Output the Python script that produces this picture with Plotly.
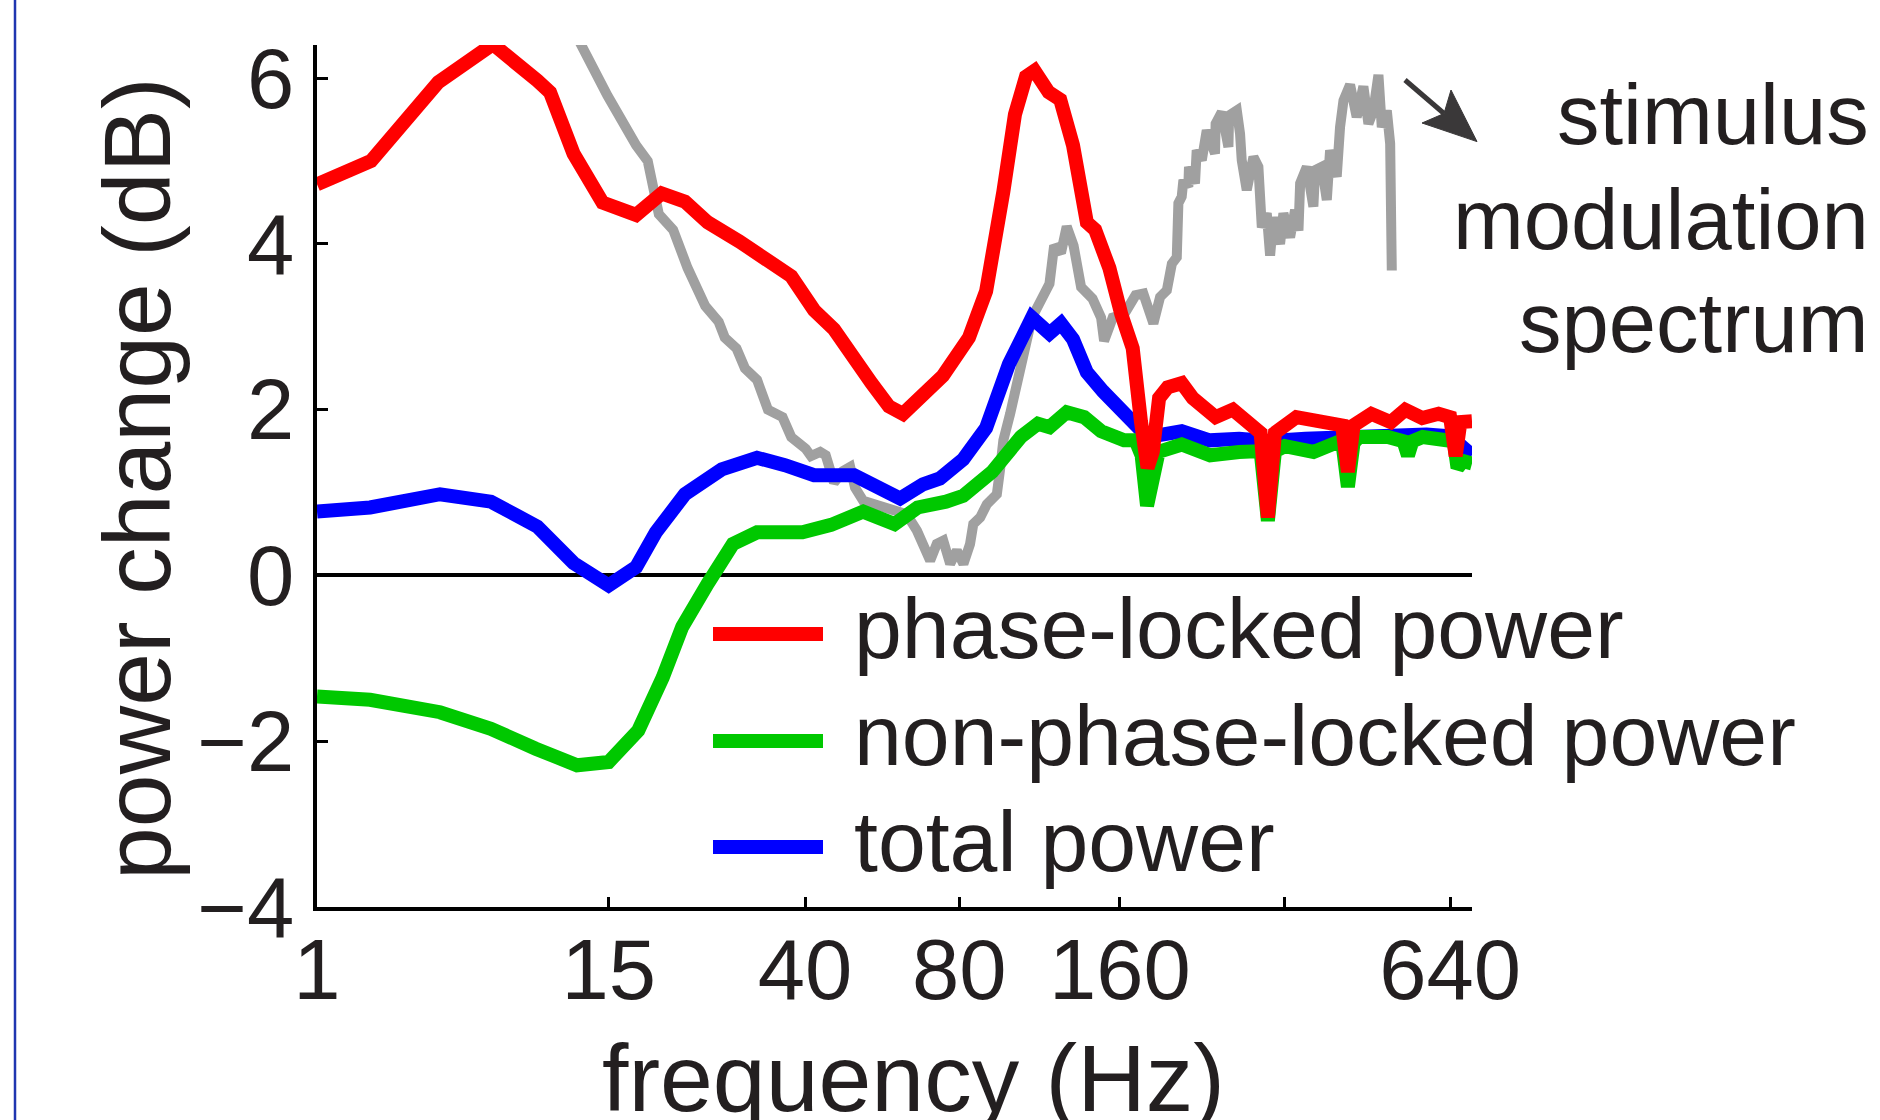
import numpy as np
import plotly.graph_objects as go

# ---------------- data (frequency in Hz, power change in dB) ----------------
freq_red = [1, 2.5, 4.9, 7.4, 9.9, 10.7, 12.3, 14.5, 17.4, 19.9,
            22.4, 25.1, 29.3, 34.6, 37.5, 41.7, 45.7, 54.2, 58.6, 62.4,
            66.6, 74.5, 83.5, 90, 97, 102, 107, 111, 118, 124,
            131, 139, 144, 153, 161, 169, 175, 180, 184, 189,
            196, 208, 218, 229, 240, 258, 274, 290, 299, 308,
            337, 371, 408, 418, 428, 461, 500, 531, 570, 610,
            640, 655, 668, 701]
phase_locked = [4.72, 5.0, 5.95, 6.41, 5.97, 5.83, 5.09, 4.5, 4.35, 4.61,
                4.51, 4.26, 4.03, 3.75, 3.61, 3.20, 2.97, 2.32, 2.04, 1.95,
                2.14, 2.41, 2.87, 3.43, 4.63, 5.56, 6.02, 6.09, 5.83, 5.74,
                5.19, 4.26, 4.17, 3.71, 3.15, 2.74, 1.86, 1.30, 1.49, 2.14,
                2.27, 2.32, 2.14, 2.0, 1.91, 2.0, 1.86, 1.72, 0.70, 1.72,
                1.91, 1.86, 1.81, 1.25, 1.81, 1.95, 1.85, 2.0, 1.9, 1.95,
                1.91, 1.44, 1.85, 1.86]

freq_green = [1, 2.47, 4.97, 7.3, 9.8, 12.55, 15.0, 17.6, 20.0, 22.1,
              25.1, 26.9, 28.4, 31.9, 39.5, 45.1, 52.2, 60.1, 66.6, 75.5,
              81.4, 92.4, 104.6, 112.7, 118.4, 127.5, 137.4, 147.7, 162.9, 171,
              175.5, 179.6, 184, 188.6, 208, 234.5, 265, 290, 299, 308,
              321, 362, 408, 418, 428, 438, 494, 527, 537, 547,
              571, 640, 650, 660, 675, 701]
non_phase_locked = [-1.46, -1.50, -1.65, -1.85, -2.09, -2.29, -2.25, -1.87, -1.23, -0.62,
                    -0.10, 0.20, 0.38, 0.52, 0.52, 0.61, 0.77, 0.62, 0.82, 0.89,
                    0.96, 1.25, 1.67, 1.83, 1.79, 1.97, 1.91, 1.74, 1.63, 1.63,
                    1.45, 0.84, 1.20, 1.49, 1.58, 1.45, 1.49, 1.50, 0.66, 1.50,
                    1.56, 1.49, 1.63, 1.07, 1.60, 1.67, 1.67, 1.62, 1.45, 1.62,
                    1.67, 1.63, 1.62, 1.30, 1.38, 1.35]

freq_blue = [1, 2.47, 4.97, 7.3, 9.9, 12.3, 15.0, 17.4, 19.3, 22.4,
             26.9, 31.9, 36.4, 41.7, 50.1, 54.2, 61.6, 68.2, 73.5, 81.4,
             90, 99.4, 109.8, 118.4, 124.4, 131, 139, 149, 165, 180,
             208, 234, 265, 300, 350, 420, 500, 580, 640, 701]
total_power = [0.77, 0.82, 0.98, 0.89, 0.59, 0.15, -0.12, 0.10, 0.52, 0.98,
               1.28, 1.42, 1.33, 1.21, 1.21, 1.10, 0.93, 1.10, 1.17, 1.40,
               1.78, 2.55, 3.11, 2.92, 3.04, 2.85, 2.45, 2.22, 1.92, 1.67,
               1.74, 1.63, 1.65, 1.62, 1.65, 1.68, 1.70, 1.70, 1.68, 1.45]

freq_gray = [12.7, 14.9, 17.4, 18.5, 19.6, 21.1, 22.7, 24.8, 26.5, 27.3,
             28.9, 30.1, 31.9, 33.6, 36.0, 37.5, 40.1, 41.1, 42.9, 44.0,
             45.7, 47.6, 49.2, 50.3, 52.2, 54.6, 59.8, 63.4, 66.4, 68.3,
             70.4, 72.5, 74.6, 76.9, 79.2, 81.5, 83.9, 85.1, 87.7, 90.3,
             94.3, 95.6, 97.0, 99.9, 102.8, 105.0, 107.4, 109.8, 114.2, 118.4,
             120.8, 124.4, 127.5, 131.3, 135.6, 142.4, 147.7, 149.6, 155.2, 162.9,
             171, 176.8, 184.5, 189.8, 195.3, 199.5, 203.7, 205.1, 208, 209.5,
             213.9, 214.5, 220, 221.6, 226.4, 231.2, 239.4, 240, 246.3, 253.3,
             254, 262.4, 266, 267.9, 273.6, 281.4, 287.3, 291.5, 297.6, 301.8,
             306, 314.7, 319.1, 328.2, 335.1, 339.9, 342.3, 352, 361.8, 364.4,
             374.8, 382.7, 388, 398.9, 404.5, 410.3, 421.8, 433.6, 445.9, 455.4,
             464.9, 474.8, 481.5, 491.7, 498.6, 502]
stimulus_spectrum = [6.45, 5.79, 5.19, 5.00, 4.36, 4.17, 3.71, 3.25, 3.06, 2.87,
                     2.74, 2.50, 2.36, 2.00, 1.91, 1.67, 1.53, 1.44, 1.49, 1.45,
                     1.12, 1.26, 1.31, 1.06, 0.90, 0.86, 0.78, 0.74, 0.54, 0.34,
                     0.18, 0.38, 0.42, 0.14, 0.30, 0.14, 0.38, 0.62, 0.70, 0.86,
                     0.98, 1.27, 1.63, 1.95, 2.35, 2.63, 2.84, 3.11, 3.34, 3.52,
                     3.98, 3.89, 4.21, 3.98, 3.48, 3.34, 3.11, 2.83, 3.11, 3.15,
                     3.38, 3.40, 3.04, 3.36, 3.44, 3.76, 3.84, 4.49, 4.57, 4.77,
                     4.69, 4.93, 4.73, 5.13, 5.01, 5.37, 5.09, 5.45, 5.59, 5.17,
                     5.55, 5.61, 5.33, 5.01, 4.65, 5.05, 4.93, 4.20, 4.37, 3.86,
                     4.32, 4.00, 4.37, 4.08, 4.41, 4.16, 4.73, 4.93, 4.45, 4.89,
                     4.93, 4.53, 5.13, 4.81, 5.41, 5.73, 5.92, 5.53, 5.90, 5.45,
                     5.61, 6.04, 5.41, 5.61, 5.21, 3.68]

x_tick_freqs = [1, 15, 40, 80, 160, 320, 640]
x_tick_labels = ["1", "15", "40", "80", "160", "", "640"]
y_tick_vals = [-4, -2, 0, 2, 4, 6]

legend_names = ["phase-locked power", "non-phase-locked power", "total power"]
annotation_lines = ["stimulus", "modulation", "spectrum"]

# ---------------- axis warp: frequency axis is log(f + 5) ----------------
F_OFFSET = 5.0


def warp(f):
    return np.log2(np.asarray(f, dtype=float) + F_OFFSET)


FONT = "Liberation Sans, Arial, Helvetica, sans-serif"
TXT = "#231f20"
RED, GREEN, BLUE, GRAY = "#ff0000", "#00c800", "#0000ff", "#a0a0a0"
ARROW = "#3a3839"
LW = 14

W, H = 1880, 1120
ML, MR, MT, MB = 317, 408, 45, 213
PW, PH = W - ML - MR, H - MT - MB


def px(xpix):
    return (xpix - ML) / PW


def py(ypix):
    return (H - MB - ypix) / PH


fig = go.Figure()
fig.add_trace(go.Scatter(x=warp(freq_gray), y=stimulus_spectrum, mode="lines",
                         line=dict(color=GRAY, width=10), showlegend=False))
fig.add_trace(go.Scatter(x=warp(freq_blue), y=total_power, mode="lines",
                         line=dict(color=BLUE, width=LW), name=legend_names[2], showlegend=False))
fig.add_trace(go.Scatter(x=warp(freq_green), y=non_phase_locked, mode="lines",
                         line=dict(color=GREEN, width=LW), name=legend_names[1], showlegend=False))
fig.add_trace(go.Scatter(x=warp(freq_red), y=phase_locked, mode="lines",
                         line=dict(color=RED, width=LW), name=legend_names[0], showlegend=False))

shapes = []
annotations = []

# hand-drawn legend (long line samples like the original)
leg_colors = [RED, GREEN, BLUE]
leg_y = [634, 741, 847]
for name, col, yy in zip(legend_names, leg_colors, leg_y):
    shapes.append(dict(type="line", xref="paper", yref="paper",
                       x0=px(713), x1=px(823), y0=py(yy), y1=py(yy),
                       line=dict(color=col, width=LW)))
    annotations.append(dict(text=name, xref="paper", yref="paper",
                            x=px(852), y=py(yy - 6), xanchor="left", yanchor="middle",
                            showarrow=False, font=dict(family=FONT, size=86, color=TXT)))

# stimulus modulation spectrum label
for line_txt, yy in zip(annotation_lines, [114, 219, 322]):
    annotations.append(dict(text=line_txt, xref="paper", yref="paper",
                            x=px(1871), y=py(yy), xanchor="right", yanchor="middle",
                            showarrow=False, font=dict(family=FONT, size=85, color=TXT)))

# arrow pointing at the grey spectrum: shaft + notched triangular head
tail, notch, tip = (1405, 80), (1444, 113.5), (1477, 141.6)
wing1, wing2 = (1422, 123), (1451, 90)
shapes.append(dict(type="line", xref="paper", yref="paper",
                   x0=px(tail[0]), y0=py(tail[1]), x1=px(notch[0]), y1=py(notch[1]),
                   line=dict(color=ARROW, width=5)))
head_path = "M {},{} L {},{} L {},{} L {},{} Z".format(
    px(tip[0]), py(tip[1]), px(wing1[0]), py(wing1[1]),
    px(notch[0]), py(notch[1]), px(wing2[0]), py(wing2[1]))
shapes.append(dict(type="path", xref="paper", yref="paper", path=head_path,
                   fillcolor=ARROW, line=dict(color=ARROW, width=1)))

# axis titles
annotations.append(dict(text="frequency (Hz)", xref="paper", yref="paper",
                        x=px(913), y=py(1078), xanchor="center", yanchor="middle",
                        showarrow=False, font=dict(family=FONT, size=95, color=TXT)))
annotations.append(dict(text="power change (dB)", xref="paper", yref="paper",
                        x=px(137), y=py(479), xanchor="center", yanchor="middle",
                        textangle=-90, showarrow=False,
                        font=dict(family=FONT, size=95, color=TXT)))

# thin blue panel border at far left
shapes.append(dict(type="line", xref="paper", yref="paper", x0=px(15), x1=px(15),
                   y0=py(H), y1=py(0), line=dict(color="#1f35b0", width=2.5)))

fig.update_layout(
    width=W, height=H,
    margin=dict(l=ML, r=MR, t=MT, b=MB, autoexpand=False),
    paper_bgcolor="white", plot_bgcolor="white",
    showlegend=False,
    shapes=shapes, annotations=annotations,
    xaxis=dict(range=[float(warp(1)), float(warp(701))], automargin=False,
               tickvals=list(warp(x_tick_freqs)), ticktext=x_tick_labels,
               showgrid=False, zeroline=False,
               showline=True, linecolor="black", linewidth=3.5,
               ticks="inside", ticklen=10, tickwidth=3, tickcolor="black",
               tickfont=dict(family=FONT, size=85, color=TXT),
               ticklabelstandoff=-14),
    yaxis=dict(range=[-4, 6.4], tickvals=y_tick_vals, automargin=False,
               showgrid=False, zeroline=True, zerolinecolor="black", zerolinewidth=3.5,
               showline=True, linecolor="black", linewidth=3.5,
               ticks="inside", ticklen=11, tickwidth=3, tickcolor="black",
               tickfont=dict(family=FONT, size=85, color=TXT),
               ticklabelstandoff=2),
)

fig.write_html("out.html",
               config={"displayModeBar": False},
               post_script="document.body.style.margin='0';document.body.style.padding='0';"
                           "document.body.style.overflow='hidden';")
